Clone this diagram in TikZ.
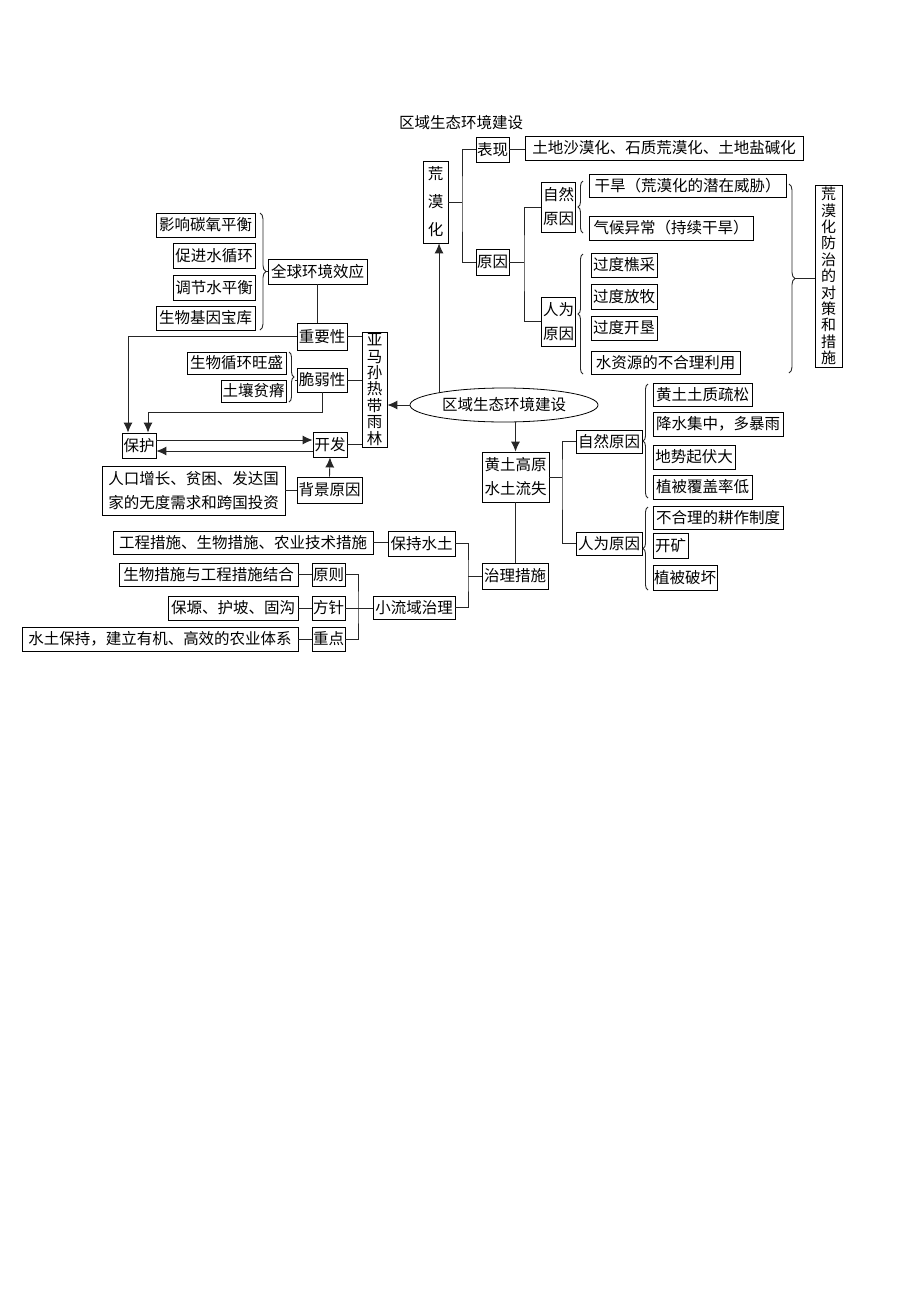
\documentclass[tikz,border=0pt]{standalone}
\usepackage{fontspec}
\setmainfont{Noto Sans CJK SC}
\usetikzlibrary{arrows.meta,decorations.pathreplacing,shapes.geometric}
\newcommand\bx[6]{\node[bx,minimum width={(#4-#2)*1pt},minimum height={(#5-#3)*1pt}] (#1) at ({(#2+#4)/2},{(#3+#5)/2}) {#6};}
\tikzset{
  bx/.style={draw=black,line width=0.8pt,inner sep=0pt,font=\fontsize{15.5}{18}\selectfont},
  ln/.style={line width=0.9pt,draw=black!85},
  arr/.style={ln,-{Latex[length=10pt,width=9pt]}},
  brc/.style={ln,decorate,decoration={brace,amplitude=#1}},
  brc/.default=5pt
}
\begin{document}
\begin{tikzpicture}[x=1pt,y=-1pt]
\fill[white] (0,0) rectangle (920,1302);
\useasboundingbox (0,0) rectangle (920,1302);
\node[font=\fontsize{15.5}{18}\selectfont] (title) at (461,123) {区域生态环境建设};
% desertification
\node[bx,minimum width=25pt,minimum height=82pt,align=center,font=\fontsize{15.5}{28}\selectfont] (hmh) at (435.5,202) {荒\\漠\\化};
\bx{bxian}{476}{137}{509}{162}{表现}
\bx{tudi}{525}{136}{803}{160}{土地沙漠化、石质荒漠化、土地盐碱化}
\bx{yy1}{476}{249}{509}{275}{原因}
\node[bx,minimum width=34pt,minimum height=50pt,align=center,font=\fontsize{15.5}{24}\selectfont] (zr1) at (558.5,207) {自然\\原因};
\node[bx,minimum width=34pt,minimum height=49pt,align=center,font=\fontsize{15.5}{24}\selectfont] (rw1) at (558.5,321.5) {人为\\原因};
\bx{gh}{589}{174}{786}{197}{干旱（荒漠化的潜在威胁）}
\bx{qh}{589}{216}{753}{240}{气候异常（持续干旱）}
\bx{gq}{591}{253}{657}{277}{过度樵采}
\bx{gf}{591}{284}{657}{309}{过度放牧}
\bx{gk}{591}{316}{657}{340}{过度开垦}
\bx{szy}{591}{351}{740}{374}{水资源的不合理利用}
\node[bx,minimum width=27pt,minimum height=182pt,align=center,font=\fontsize{15}{16.4}\selectfont] (hfz) at (828.5,276) {荒\\漠\\化\\防\\治\\的\\对\\策\\和\\措\\施};
\coordinate (j1) at (462,202);
\draw[ln] (hmh.east) -- (j1);
\draw[ln] (bxian.west) -| (j1) |- (yy1.west);
\draw[ln] (bxian.east) -- (bxian.east -| tudi.west);
\coordinate (j2) at (524,262);
\draw[ln] (yy1.east) -- (j2);
\draw[ln] (zr1.west) -| (j2) |- (rw1.west);
\draw[brc] (583,233) -- (583,181);
\draw[brc] (583,374) -- (583,254);
\draw[brc=6pt] (789,184) -- (789,373);
\coordinate (bt) at (795,278.5);
\draw[ln] (bt) -- (bt -| hfz.west);
% left: rainforest
\bx{yx}{156}{213}{255}{237}{影响碳氧平衡}
\bx{cj}{173}{243}{255}{268}{促进水循环}
\bx{tj}{173}{275}{255}{300}{调节水平衡}
\bx{sw}{156}{306}{255}{330}{生物基因宝库}
\bx{qq}{268}{259}{367}{284}{全球环境效应}
\draw[brc=6pt] (260,213) -- (260,330);
\coordinate (bt2) at (266,271.5);
\draw[ln] (bt2) -- (qq.west);
\bx{zyx}{297}{323}{347}{350}{重要性}
\draw[ln] (qq.south) -- (qq.south |- zyx.north);
\node[bx,minimum width=25pt,minimum height=115pt,align=center,font=\fontsize{15.5}{16.4}\selectfont] (amz) at (374.5,389.5) {亚\\马\\孙\\热\\带\\雨\\林};
\bx{swxh}{187}{352}{286}{374}{生物循环旺盛}
\bx{trpj}{221}{380}{286}{402}{土壤贫瘠}
\bx{cr}{297}{368}{347}{392}{脆弱性}
\draw[brc] (289,352) -- (289,402);
\coordinate (bt3) at (294.5,380);
\draw[ln] (bt3) -- (cr.west);
\draw[ln] (zyx.east) -- (zyx.east -| amz.west);
\draw[ln] (cr.east) -- (cr.east -| amz.west);
\bx{bh}{122}{433}{156}{458}{保护}
\bx{kf}{313}{432}{347}{457}{开发}
\draw[ln] (kf.east) -- (kf.east -| amz.west);
\draw[arr] (zyx.west) -| ([xshift=-11pt]bh.north);
\coordinate (k1) at (148,412);
\draw[arr] (cr.south) |- (k1) -- ([xshift=9pt]bh.north);
\coordinate (p1) at ([yshift=5.5pt]bh.east);
\draw[arr] (p1) -- (p1 -| kf.west);
\coordinate (p2) at ([yshift=-6.5pt]kf.west);
\draw[arr] (p2) -- (p2 -| bh.east);
\bx{bj}{297}{477}{362}{503}{背景原因}
\node[bx,minimum width=183pt,minimum height=49pt,align=center,font=\fontsize{15.5}{24}\selectfont] (rk) at (193.5,490.5) {人口增长、贫困、发达国\\家的无度需求和跨国投资};
\draw[ln] (rk.east) -- (rk.east -| bj.west);
\draw[arr] (bj.north) -- (kf.south);
% ellipse
\node[ellipse,draw=black,line width=0.8pt,minimum width=188pt,minimum height=34pt,inner sep=0pt,font=\fontsize{15.5}{18}\selectfont] (ell) at (504,405) {区域生态环境建设};
\draw[arr] (ell.169.8) -- (ell.169.8 |- hmh.south);
\draw[arr] (ell.west) -- (ell.west -| amz.east);
% loess plateau
\node[bx,minimum width=67pt,minimum height=50pt,align=center,font=\fontsize{15.5}{24}\selectfont] (hyt) at (515.5,477) {黄土高原\\水土流失};
\draw[arr] (ell.south -| hyt.north) -- (hyt.north);
\bx{zr2}{576}{430}{642}{453}{自然原因}
\bx{rw2}{576}{532}{642}{555}{人为原因}
\coordinate (j3) at (562,477);
\draw[ln] (hyt.east) -- (j3);
\draw[ln] (zr2.west) -| (j3) |- (rw2.west);
\bx{ht}{653}{383}{752}{406}{黄土土质疏松}
\bx{js}{653}{412}{783}{436}{降水集中，多暴雨}
\bx{ds}{653}{445}{735}{469}{地势起伏大}
\bx{zb}{653}{475}{752}{499}{植被覆盖率低}
\bx{bhl}{653}{506}{783}{529}{不合理的耕作制度}
\bx{kk}{653}{533}{688}{558}{开矿}
\bx{zp}{653}{565}{717}{590}{植被破坏}
\draw[brc] (648,498) -- (648,384);
\draw[brc] (648,590) -- (648,507);
\bx{zl}{482}{563}{548}{589}{治理措施}
\draw[ln] (hyt.south) -- (hyt.south |- zl.north);
\bx{bcs}{388}{531}{455}{556}{保持水土}
\bx{xly}{373}{596}{455}{619}{小流域治理}
\coordinate (j4) at (468,576);
\draw[ln] (zl.west) -- (j4);
\draw[ln] (bcs.east) -| (j4) |- (xly.east);
\bx{gc}{113}{531}{373}{554}{工程措施、生物措施、农业技术措施}
\draw[ln] (gc.east) -- (gc.east -| bcs.west);
\bx{swcs}{119}{563}{298}{586}{生物措施与工程措施结合}
\bx{yz}{312}{563}{345}{586}{原则}
\bx{by}{168}{596}{298}{620}{保塬、护坡、固沟}
\bx{fz}{312}{596}{345}{620}{方针}
\bx{stbc}{22}{627}{298}{651}{水土保持，建立有机、高效的农业体系}
\bx{zd}{312}{627}{345}{651}{重点}
\draw[ln] (swcs.east) -- (yz.west);
\draw[ln] (by.east) -- (fz.west);
\draw[ln] (stbc.east) -- (zd.west);
\coordinate (j5) at (358,608);
\draw[ln] (yz.east) -| (j5) |- (zd.east);
\draw[ln] (fz.east) -- (fz.east -| xly.west);
\end{tikzpicture}
\end{document}
